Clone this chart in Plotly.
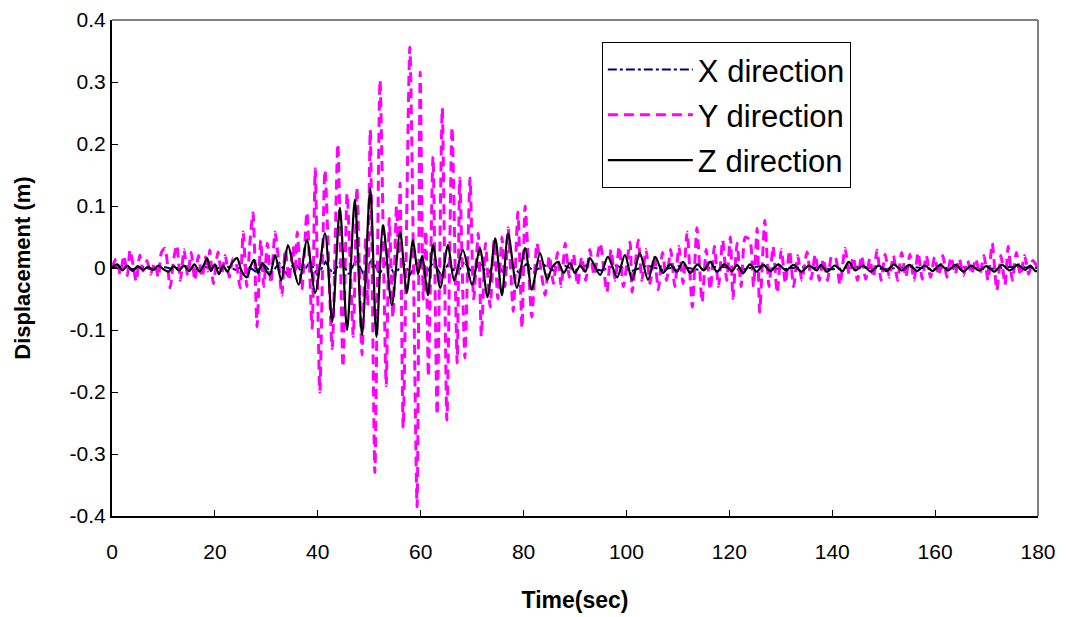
import plotly.graph_objects as go

# ---------------- data ----------------
X_T = [0, 2, 4, 6, 8, 10, 12, 14, 16, 18, 20, 22, 24, 26, 28, 29.5, 31, 32.5, 34, 35.5,
       37, 38.5, 40, 41.5, 43, 44.5, 46, 47.5, 49, 50.5, 52, 53.5, 55, 56.5, 58, 59.5,
       61, 62.5, 64, 65.5, 67, 68.5, 70, 71.5, 73, 74.5, 76, 77.5, 79, 80.5, 82, 84,
       86, 88, 90, 92, 95, 98, 101, 104, 107, 110, 114, 118, 122, 126, 130, 135, 140,
       145, 150, 155, 160, 165, 170, 175, 180]
X_V = [0, 0.003, -0.002, 0.002, -0.003, 0.002, -0.002, 0.003, -0.003, 0.002, -0.002,
       0.004, -0.003, 0.005, -0.006, 0.006, -0.008, 0.008, -0.01, 0.009, -0.008, 0.01,
       -0.012, 0.01, -0.01, 0.012, -0.01, 0.013, -0.012, 0.015, -0.01, 0.012, -0.012,
       0.01, -0.01, 0.012, -0.01, 0.01, -0.012, 0.008, -0.01, 0.01, -0.008, 0.008, -0.01,
       0.008, -0.006, 0.008, -0.007, 0.006, -0.006, 0.005, -0.005, 0.004, -0.004, 0.004,
       -0.004, 0.004, -0.005, 0.004, -0.003, 0.003, -0.003, 0.003, -0.003, 0.003, -0.002,
       0.002, -0.002, 0.002, -0.002, 0.002, -0.002, 0.002, -0.002, 0.002, 0]

Y_T = [0, 0.8, 1.6, 2.3, 3.0, 3.5, 4.1, 4.7, 5.4, 6.0, 6.8, 7.5, 8.3, 9.0, 9.6, 10.3,
       11.3, 12.0, 12.6, 13.3, 14.0, 14.7, 15.4, 16.1, 16.8, 17.5, 18.2, 18.6, 19.0, 19.7,
       20.6, 21.3, 22.0, 22.8, 23.5, 24.2, 24.9, 25.5, 26.2, 26.8, 27.4, 28.2, 28.9, 29.5,
       30.2, 30.9, 31.7, 32.4, 33.0, 33.7, 34.4, 35.2, 35.6, 36.0, 36.9, 37.9, 38.9, 39.5,
       40.4, 41.4, 42.8, 43.9, 44.9, 45.7, 46.9, 47.6, 48.6, 49.3, 49.7, 50.2, 51.1, 52.1,
       53.3, 53.9, 54.6, 55.3, 55.7, 56.0, 56.6, 57.9, 59.3, 59.9, 60.5, 61.0, 61.5, 62.4,
       63.2, 64.2, 65.1, 66.1, 67.1, 67.6, 68.6, 69.6, 70.3, 71.2, 71.8, 72.6, 73.5, 74.3,
       75.0, 75.8, 76.4, 77.0, 78.0, 78.9, 79.7, 80.3, 81.6, 82.6, 83.4, 84.2, 85.0, 85.8,
       86.6, 87.3, 88.1, 88.9, 89.7, 90.5, 91.3, 92.1, 92.9, 93.7, 94.9, 96.2, 97.0, 97.8,
       98.6, 99.4, 100.7, 101.1, 102.3, 103.0, 103.8, 104.6, 105.4, 106.2, 107.0, 107.8,
       108.6, 109.4, 110.2, 111.0, 111.8, 112.8, 113.7, 114.7, 115.5, 116.3, 117.1, 117.9,
       118.7, 119.5, 120.2, 120.7, 121.5, 122.3, 123.1, 124.0, 124.7, 125.4, 125.9, 126.9,
       127.7, 128.5, 129.3, 130.1, 130.9, 131.7, 132.5, 133.3, 134.1, 135.1, 135.9, 136.7,
       137.5, 138.3, 139.1, 139.9, 140.7, 141.5, 142.5, 143.3, 144.1, 144.9, 145.7, 146.5,
       147.3, 148.0, 148.7, 149.5, 150.3, 151.1, 151.9, 152.7, 153.5, 154.3, 155.1, 155.9,
       156.7, 157.5, 158.3, 159.1, 159.9, 160.7, 161.5, 162.3, 163.1, 163.9, 164.7, 165.5,
       166.3, 167.1, 167.9, 168.7, 169.5, 170.3, 171.1, 172.0, 172.8, 173.6, 174.2, 175.0,
       175.8, 176.6, 177.4, 178.2, 179.0, 180.0]
Y_V = [0, 0.015, -0.01, 0.02, -0.012, 0.029, 0.005, -0.022, 0.021, -0.005, 0.012, -0.01,
       0.008, -0.015, 0.025, 0.032, -0.032, 0.015, 0.037, -0.02, 0.03, -0.012, 0.025, -0.02,
       0.02, -0.015, 0.018, -0.005, 0.029, -0.025, 0.026, -0.01, 0.02, -0.015, 0.015, 0.005,
       -0.032, 0.058, -0.03, 0.04, 0.089, -0.095, 0.045, -0.03, 0.04, -0.025, 0.058, 0.01,
       -0.044, 0.03, -0.02, 0.035, -0.01, 0.058, -0.035, 0.09, -0.097, 0.16, -0.2, 0.158,
       -0.13, 0.2, -0.16, 0.12, -0.11, 0.13, -0.14, 0.05, -0.06, 0.223, -0.33, 0.303,
       -0.19, 0.08, -0.08, 0.1, 0.02, 0.137, -0.258, 0.356, -0.385, 0.316, -0.05, 0.06,
       -0.175, 0.18, -0.237, 0.258, -0.245, 0.227, -0.153, 0.145, -0.145, 0.145, -0.05,
       0.056, -0.11, 0.04, -0.063, 0.045, -0.05, 0.05, -0.03, 0.065, -0.07, 0.09, -0.097,
       0.1, -0.079, 0.04, -0.005, -0.044, 0.02, -0.025, 0.025, -0.03, 0.04, -0.015, 0.022,
       -0.028, 0.018, -0.02, 0.03, -0.012, 0.04, -0.039, 0.03, -0.02, 0.035, -0.03, 0.042,
       -0.039, 0.045, -0.02, 0.03, -0.025, 0.02, -0.035, 0.025, -0.02, 0.03, -0.03, 0.035,
       -0.025, 0.058, -0.063, 0.065, -0.055, 0.03, -0.035, 0.035, -0.03, 0.045, -0.02, 0.05,
       -0.049, 0.04, -0.03, 0.05, 0.045, -0.03, 0.064, -0.071, 0.077, -0.03, 0.035, -0.04,
       0.03, -0.025, 0.028, -0.03, 0.02, -0.02, 0.026, -0.018, 0.022, -0.02, 0.015, -0.02,
       0.02, 0.015, -0.027, 0.032, -0.01, 0.018, -0.02, 0.02, -0.018, 0.015, -0.015, 0.029,
       -0.02, 0.022, -0.015, 0.02, -0.02, 0.025, -0.015, 0.022, -0.02, 0.025, -0.018, 0.02,
       -0.015, 0.018, -0.012, 0.02, -0.015, 0.018, -0.01, 0.015, -0.012, 0.012, -0.01, 0.015,
       -0.01, 0.02, -0.02, 0.04, -0.036, 0.02, -0.027, 0.035, -0.02, 0.025, -0.012, 0.02,
       -0.01, 0.012, 0.0]

Z_T = [0, 1, 2, 3, 4, 5, 6, 7, 8, 9, 10, 11, 12, 13, 14, 15, 16, 17, 17.8, 18.5, 19.2,
       20, 20.8, 21.6, 22.4, 23.3, 24.3, 25.2, 26.2, 27.0, 27.6, 28.4, 29.2, 30, 30.7,
       31.7, 32.9, 34.2, 35.3, 36.3, 37.9, 39.5, 41.4, 42.8, 44.3, 45.7, 47.2, 48.6, 50.2,
       51.4, 52.7, 54.4, 56.0, 57.3, 58.5, 59.5, 60.3, 61.4, 62.4, 63.8, 65.3, 66.5, 68.2,
       70.0, 71.5, 73.0, 74.5, 75.8, 77.0, 78.7, 80.3, 81.6, 83.2, 84.6, 85.5, 86.7, 87.8,
       89, 90, 91, 92, 92.9, 94.9, 96.4, 98.2, 99.7, 101.1, 102.6, 104.2, 105.6, 107.1,
       108.5, 109.8, 111.0, 112.4, 113.8, 115, 116.3, 117.6, 119, 120.5, 121.5, 122.7, 124,
       125.3, 126.6, 128, 129.5, 131, 132.5, 134, 135.5, 137, 137.8, 139, 140.5, 142, 143.2,
       144.5, 146, 147.5, 149, 150.5, 152, 153.5, 155, 156.5, 158, 159.5, 161, 162.5, 164,
       165.5, 167, 168.5, 170, 171.5, 173, 174.5, 176, 177.5, 178.5, 179.5, 180]
Z_V = [0, 0.006, -0.004, 0.004, -0.005, 0.003, -0.003, 0.002, -0.003, 0.004, -0.002,
       -0.006, 0.003, -0.004, 0.004, -0.005, 0.006, -0.006, 0.004, 0.016, -0.005, 0.006,
       -0.01, 0.004, -0.006, 0.008, 0.016, -0.005, -0.015, 0.004, 0.013, -0.008, 0.008,
       -0.005, -0.011, 0.021, -0.02, 0.037, 0.0, -0.027, 0.045, -0.04, 0.056, -0.087, 0.097,
       -0.1, 0.11, -0.108, 0.129, -0.111, 0.069, -0.06, 0.058, -0.04, 0.045, -0.01, 0.02,
       -0.044, 0.037, -0.032, 0.037, -0.02, 0.029, -0.027, 0.032, -0.047, 0.048, -0.044,
       0.056, -0.032, 0.032, -0.035, 0.024, -0.019, 0.0, 0.01, -0.008, 0.008, -0.008, 0.004,
       -0.006, 0.016, -0.011, 0.018, -0.015, 0.021, -0.019, 0.024, -0.019, 0.018, -0.008,
       0.006, -0.006, 0.01, -0.008, 0.006, -0.004, 0.01, -0.006, 0.006, -0.005, 0.005,
       -0.008, 0.006, -0.006, 0.005, -0.005, 0.006, -0.004, 0.005, -0.006, 0.004, -0.004,
       0.005, -0.006, 0.004, -0.005, 0.01, -0.004, 0.004, -0.006, 0.004, -0.005, 0.006,
       -0.004, 0.005, -0.005, 0.004, -0.005, 0.005, -0.004, 0.005, -0.006, 0.004, -0.004,
       0.003, -0.006, 0.005, -0.004, 0.005, -0.003, 0.004, -0.005, -0.004]

X_TICKS = [0, 20, 40, 60, 80, 100, 120, 140, 160, 180]
Y_TICKS = [0.4, 0.3, 0.2, 0.1, 0, -0.1, -0.2, -0.3, -0.4]
Y_TICK_TEXT = ["0.4", "0.3", "0.2", "0.1", "0", "-0.1", "-0.2", "-0.3", "-0.4"]

# ---------------- figure ----------------
FONT = "Liberation Sans, Arial, sans-serif"

fig = go.Figure()
fig.add_trace(go.Scatter(x=X_T, y=X_V, mode="lines", name="X direction", legendgroup="x",
                         line=dict(color="#000080", width=2, dash="dashdot")))
fig.add_trace(go.Scatter(x=Y_T, y=Y_V, mode="lines", name="Y direction", legendgroup="y",
                         line=dict(color="#FF00FF", width=3, dash="10px,6px",
                                   shape="spline", smoothing=0.6)))
fig.add_trace(go.Scatter(x=Z_T, y=Z_V, mode="lines", name="Z direction", legendgroup="z",
                         line=dict(color="#000000", width=2.2,
                                   shape="spline", smoothing=0.8)))

fig.update_layout(
    width=1060, height=609,
    margin=dict(l=104, r=30, t=12, b=101),
    paper_bgcolor="white", plot_bgcolor="white",
    font=dict(family=FONT, size=21, color="black"),
    showlegend=True,
    legend=dict(x=0.529, y=0.956, xanchor="left", yanchor="top",
                bgcolor="white", bordercolor="black", borderwidth=1,
                font=dict(family=FONT, size=31, color="black"),
                tracegroupgap=2, itemwidth=85),
    xaxis=dict(range=[0, 180], tickvals=X_TICKS, ticks="inside", ticklen=6,
               tickcolor="black", showline=True, linecolor="black", linewidth=2,
               mirror=False, showgrid=False, zeroline=False, automargin=False,
               ticklabelstandoff=16,
               title=dict(text="<b>Time(sec)</b>", font=dict(size=23), standoff=30),
               tickfont=dict(size=21)),
    yaxis=dict(range=[-0.4, 0.4], tickvals=Y_TICKS, ticktext=Y_TICK_TEXT,
               ticks="inside", ticklen=6, tickcolor="black",
               showline=True, linecolor="black", linewidth=2,
               showgrid=False, zeroline=False, automargin=False,
               title=dict(text="<b>Displacement (m)</b>", font=dict(size=22), standoff=33),
               tickfont=dict(size=21)),
    shapes=[dict(type="line", xref="paper", yref="paper", x0=0, x1=1, y0=1, y1=1,
                 line=dict(color="#808080", width=2)),
            dict(type="line", xref="paper", yref="paper", x0=1, x1=1, y0=0, y1=1,
                 line=dict(color="#808080", width=2))],
)

fig.write_html("out.html")
